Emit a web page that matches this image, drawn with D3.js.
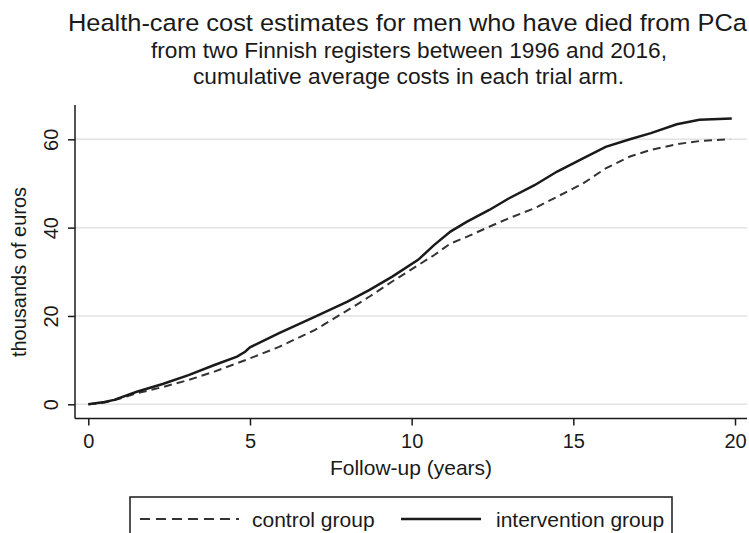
<!DOCTYPE html>
<html>
<head>
<meta charset="utf-8">
<script src="https://cdn.jsdelivr.net/npm/d3@7"></script>
<style>
  html, body { margin: 0; padding: 0; background: #fff; }
  svg { display: block; font-family: Arial, "Liberation Sans", sans-serif; }
</style>
</head>
<body>
<svg id="chart" width="749" height="533"></svg>
<script>
// Follow-up time (years) and cumulative average cost (thousands of euros)
const controlYears = [0, 0.5, 0.8, 1.5, 2.3, 3.1, 3.9, 4.6, 5.0, 5.9, 7.0, 8.0, 8.7, 9.4, 10.2, 10.7, 11.2, 11.7, 12.4, 13.0, 13.8, 14.5, 15.3, 16.0, 16.75, 17.4, 18.2, 18.9, 19.85];
const controlCost  = [0, 0.4, 0.9, 2.5, 3.9, 5.5, 7.4, 9.3, 10.4, 13.0, 16.8, 21.2, 24.4, 27.8, 31.5, 33.8, 36.4, 37.9, 40.2, 42.1, 44.4, 47.0, 50.0, 53.4, 56.1, 57.6, 58.9, 59.6, 60.0];

const interventionYears = [0, 0.5, 0.8, 1.5, 2.3, 3.1, 3.9, 4.6, 4.85, 5.0, 5.9, 7.0, 8.0, 8.7, 9.4, 10.2, 10.7, 11.2, 11.7, 12.4, 13.0, 13.8, 14.5, 15.3, 16.0, 16.75, 17.4, 18.2, 18.9, 19.9];
const interventionCost  = [0, 0.5, 1.0, 2.85, 4.6, 6.6, 8.9, 10.8, 11.9, 12.9, 16.1, 19.8, 23.2, 25.9, 28.9, 32.7, 36.1, 39.1, 41.3, 44.0, 46.6, 49.6, 52.7, 55.7, 58.3, 60.0, 61.4, 63.4, 64.4, 64.7];

const xTicks = [0, 5, 10, 15, 20];
const yTicks = [0, 20, 40, 60];

const titleLines = [
  "Health-care cost estimates for men who have died from PCa",
  "from two Finnish registers between 1996 and 2016,",
  "cumulative average costs in each trial arm."
];
const legendLabels = ["control group", "intervention group"];

const svg = d3.select("#chart");
const ink = "#1a1a1a";

const x = d3.scaleLinear().domain([0, 20]).range([88.3, 735]);
const y = d3.scaleLinear().domain([0, 60]).range([404.3, 139.3]);

const plotLeft = 75, plotRight = 747, plotTop = 105, plotBottom = 418.5;

// horizontal grid lines
svg.append("g")
  .selectAll("line")
  .data(yTicks)
  .join("line")
  .attr("x1", plotLeft).attr("x2", plotRight)
  .attr("y1", d => y(d)).attr("y2", d => y(d))
  .attr("stroke", "#e2e2e2").attr("stroke-width", 1.5);

// y axis
const yAxis = svg.append("g")
  .attr("transform", `translate(${plotLeft},0)`)
  .call(d3.axisLeft(y).tickValues(yTicks).tickSize(7).tickSizeOuter(0));
yAxis.select(".domain").attr("d", `M0,${plotTop}V${plotBottom}`).attr("stroke", ink).attr("stroke-width", 1.5);
yAxis.selectAll(".tick line").attr("stroke", ink).attr("stroke-width", 1.5);
yAxis.selectAll(".tick text")
  .attr("fill", ink)
  .attr("font-size", 20)
  .attr("text-anchor", "middle")
  .attr("x", null).attr("dy", null)
  .attr("transform", "translate(-17.5,0) rotate(-90)")
  .attr("y", 0);

// x axis
const xAxis = svg.append("g")
  .attr("transform", `translate(0,${plotBottom})`)
  .call(d3.axisBottom(x).tickValues(xTicks).tickSize(7).tickSizeOuter(0).tickPadding(8));
xAxis.select(".domain").attr("d", `M${plotLeft},0H${plotRight}`).attr("stroke", ink).attr("stroke-width", 1.5);
xAxis.selectAll(".tick line").attr("stroke", ink).attr("stroke-width", 1.5);
xAxis.selectAll(".tick text").attr("fill", ink).attr("font-size", 20);

// series lines
const line = d3.line().x(d => x(d[0])).y(d => y(d[1]));
const controlData = controlYears.map((t, i) => [t, controlCost[i]]);
const interventionData = interventionYears.map((t, i) => [t, interventionCost[i]]);

svg.append("path")
  .datum(controlData)
  .attr("d", line)
  .attr("fill", "none")
  .attr("stroke", "#333")
  .attr("stroke-width", 2)
  .attr("stroke-dasharray", "8,5");

svg.append("path")
  .datum(interventionData)
  .attr("d", line)
  .attr("fill", "none")
  .attr("stroke", ink)
  .attr("stroke-width", 2.5);

// titles
const titleSpecs = [
  { size: 24.5, y: 31, width: 679, cx: 407.5 },
  { size: 22,   y: 58, width: 516, cx: 409 },
  { size: 22,   y: 84, width: 431, cx: 408.5 }
];
svg.selectAll(".title")
  .data(titleLines)
  .join("text")
  .attr("class", "title")
  .attr("x", (d, i) => titleSpecs[i].cx)
  .attr("y", (d, i) => titleSpecs[i].y)
  .attr("text-anchor", "middle")
  .attr("font-size", (d, i) => titleSpecs[i].size)
  .attr("textLength", (d, i) => titleSpecs[i].width)
  .attr("lengthAdjust", "spacingAndGlyphs")
  .attr("fill", ink)
  .text(d => d);

// axis titles
svg.append("text")
  .attr("x", 411).attr("y", 475)
  .attr("text-anchor", "middle")
  .attr("font-size", 21)
  .attr("fill", ink)
  .text("Follow-up (years)");
svg.append("text")
  .attr("transform", "translate(25.5,272) rotate(-90)")
  .attr("text-anchor", "middle")
  .attr("font-size", 20)
  .attr("fill", ink)
  .text("thousands of euros");

// legend
const legend = svg.append("g");
legend.append("rect")
  .attr("x", 130).attr("y", 497)
  .attr("width", 542).attr("height", 60)
  .attr("fill", "#fff").attr("stroke", ink).attr("stroke-width", 1.5);
legend.append("line")
  .attr("x1", 140).attr("x2", 239).attr("y1", 519).attr("y2", 519)
  .attr("stroke", "#333").attr("stroke-width", 2).attr("stroke-dasharray", "10,6");
legend.append("text")
  .attr("x", 252).attr("y", 527)
  .attr("font-size", 21).attr("fill", ink)
  .text(legendLabels[0]);
legend.append("line")
  .attr("x1", 401).attr("x2", 481).attr("y1", 519).attr("y2", 519)
  .attr("stroke", ink).attr("stroke-width", 2.5);
legend.append("text")
  .attr("x", 496).attr("y", 527)
  .attr("font-size", 21).attr("fill", ink)
  .text(legendLabels[1]);
</script>
</body>
</html>
